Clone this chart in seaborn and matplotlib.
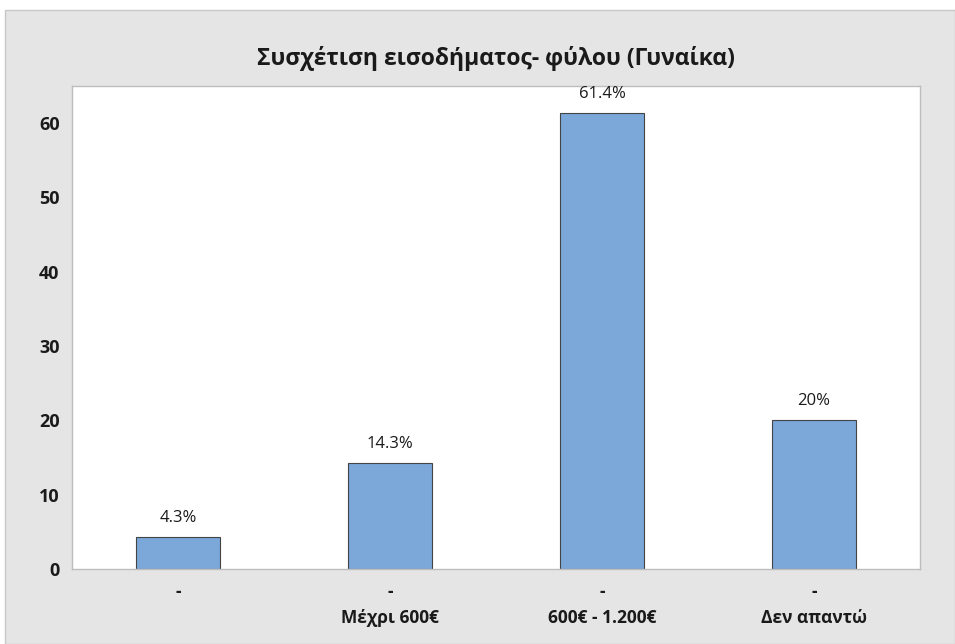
import numpy as np
import pandas as pd
import seaborn as sns
import matplotlib.pyplot as plt
from matplotlib.patches import Rectangle

# Data
categories = ['-', '-\nΜέχρι 600€', '-\n600€ - 1.200€', '-\nΔεν απαντώ']
percent = [4.3, 14.3, 61.4, 20.0]
value_labels = ['4.3%', '14.3%', '61.4%', '20%']
title = 'Συσχέτιση εισοδήματος- φύλου (Γυναίκα)'

sns.set_style('white')
plt.rcParams['font.family'] = ['Open Sans', 'DejaVu Sans']

df = pd.DataFrame({'cat': categories, 'pct': percent})

fig = plt.figure(figsize=(9.55, 6.44), dpi=100, facecolor='white')
# gray panel behind the plot
fig.patches.append(Rectangle((5 / 955, 0), 950 / 955, 634 / 644, transform=fig.transFigure,
                             facecolor='#E5E5E5', edgecolor='#C8C8C8', linewidth=1, zorder=-1))
ax = fig.add_axes([72 / 955, 75 / 644, 848 / 955, 483 / 644])

sns.barplot(data=df, x='cat', y='pct', color='#7BA7D9', saturation=1, width=0.4,
            edgecolor='#444444', linewidth=0.8, ax=ax)
ax.bar_label(ax.containers[0], labels=value_labels, padding=8, fontsize=12, color='#1A1A1A')

ax.set_xlim(-0.5, 3.5)
ax.set_ylim(0, 65)
ax.set_yticks(range(0, 70, 10))
ax.set_xlabel('')
ax.set_ylabel('')
ax.set_facecolor('white')
for s in ax.spines.values():
    s.set_color('#BDBDBD')
    s.set_linewidth(1)
ax.tick_params(axis='both', length=5, color='#BDBDBD', width=1, labelsize=12.5, labelcolor='#1A1A1A')
ax.tick_params(axis='x', pad=5)
ax.tick_params(axis='y', pad=4, labelsize=13)
for lbl in ax.get_xticklabels():
    lbl.set_fontweight('bold')
    lbl.set_linespacing(1.6)
for lbl in ax.get_yticklabels():
    lbl.set_fontweight('bold')
ax.set_title(title, fontsize=16.5, fontweight='bold', pad=15, color='#1A1A1A')

fig.savefig('out.png', dpi=100)
